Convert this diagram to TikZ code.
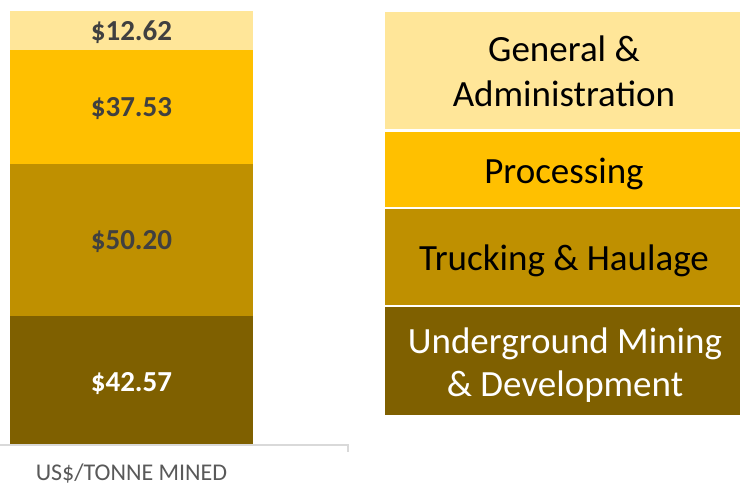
\documentclass[tikz,border=0pt]{standalone}
\usepackage{fontspec}
\setmainfont{Carlito}
\definecolor{gaLight}{HTML}{FFE699}
\definecolor{gaGold}{HTML}{FFC000}
\definecolor{gaDark}{HTML}{BF9000}
\definecolor{gaBrown}{HTML}{7F6000}
\definecolor{lblGray}{HTML}{404040}
\definecolor{axGray}{HTML}{D9D9D9}
\definecolor{capGray}{HTML}{595959}
\begin{document}
\begin{tikzpicture}[x=1pt,y=-1pt,
  seg/.style={draw=none, inner sep=0pt, outer sep=0pt, minimum width=243pt},
  seglbl/.style={inner sep=0pt, anchor=base, font=\fontsize{29}{34}\selectfont\bfseries, text=lblGray},
  leg/.style={draw=none, inner sep=0pt, outer sep=0pt, minimum width=355pt},
  leglbl/.style={inner sep=0pt, anchor=base, font=\fontsize{37}{45}\selectfont, text=black}]
\useasboundingbox[fill=white] (0,0) rectangle (740,484);
% stacked bar
\node[seg, fill=gaLight, minimum height=39pt] (s1) at (131.5,30.5) {};
\node[seg, fill=gaGold, minimum height=114pt] (s2) at (131.5,107) {};
\node[seg, fill=gaDark, minimum height=152pt] (s3) at (131.5,240) {};
\node[seg, fill=gaBrown, minimum height=128pt] (s4) at (131.5,380) {};
\node[seglbl] (t1) at (131.5,41) {\$12.62};
\node[seglbl] (t2) at (131.5,117) {\$37.53};
\node[seglbl] (t3) at (131.5,249.5) {\$50.20};
\node[seglbl, text=white] (t4) at (131.5,391.5) {\$42.57};
% axis
\coordinate (axL) at (0,445);
\coordinate (axR) at (348,445);
\coordinate (axT) at (348,452);
\draw[axGray, line width=1.2pt] (axL) -- (axR) -- (axT);
\node[font=\fontsize{24}{28}\selectfont, text=capGray, inner sep=0pt, anchor=base] (cap) at (131.5,480) {US\$/TONNE MINED};
% legend
\node[leg, fill=gaLight, minimum height=117.5pt] (l1) at (562.5,70.75) {};
\node[leg, fill=gaGold, minimum height=75.5pt] (l2) at (562.5,169.75) {};
\node[leg, fill=gaDark, minimum height=95pt] (l3) at (562.5,257) {};
\node[leg, fill=gaBrown, minimum height=108.5pt] (l4) at (562.5,360.75) {};
\node[leglbl] (g1a) at (564,62) {General \&};
\node[leglbl] (g1b) at (564,107) {Administration};
\node[leglbl] (g2) at (564,184) {Processing};
\node[leglbl] (g3) at (564,270.5) {Trucking \& Haulage};
\node[leglbl, text=white] (g4a) at (565,353.5) {Underground Mining};
\node[leglbl, text=white] (g4b) at (565,396.5) {\& Development};
\end{tikzpicture}
\end{document}
